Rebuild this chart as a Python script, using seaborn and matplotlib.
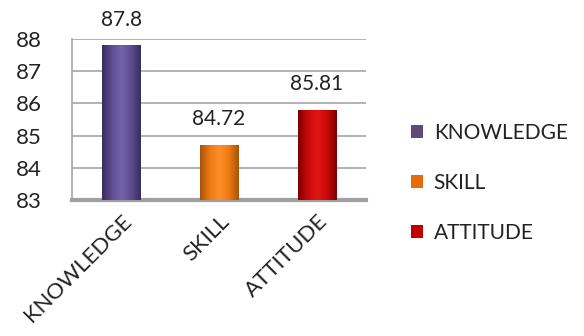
import matplotlib
matplotlib.use("Agg")
import matplotlib.pyplot as plt
import seaborn as sns
import pandas as pd
import numpy as np
from matplotlib.patches import Patch
from matplotlib.colors import LinearSegmentedColormap

categories = ["KNOWLEDGE", "SKILL", "ATTITUDE"]
values = [87.8, 84.72, 85.81]
value_labels = ["87.8", "84.72", "85.81"]
colors = ["#5E4C91", "#EE7A12", "#C80A0A"]
shade_dark = ["#3A2C63", "#A9520A", "#7E0000"]
shade_light = ["#7464A8", "#FF8E2A", "#E01616"]
legend_colors = ["#604A7B", "#E46C0A", "#C00000"]
yticks = [83, 84, 85, 86, 87, 88]

sns.set_theme(style="white")
plt.rcParams["font.family"] = ["Lato", "DejaVu Sans"]

df = pd.DataFrame({"cat": categories, "val": values})

fig = plt.figure(figsize=(5.84, 3.36), dpi=100)
ax = fig.add_axes([72/584, 1-200/336, (366-72)/584, (200-39)/336])

sns.barplot(data=df, x="cat", y="val", hue="cat", palette=colors, width=0.39,
            dodge=False, legend=False, ax=ax, zorder=3, edgecolor="none",
            saturation=1)

ax.set_ylim(83, 88)
ax.set_xlim(-0.5, 2.5)

# cylinder-like shading clipped to each bar
grad = np.linspace(0, 1, 64).reshape(1, -1)
for patch, dk, lt, base in zip(ax.patches, shade_dark, shade_light, colors):
    cmap = LinearSegmentedColormap.from_list("s", [dk, base, lt, base, dk])
    x0, w = patch.get_x(), patch.get_width()
    y0, h = patch.get_y(), patch.get_height()
    im = ax.imshow(grad, cmap=cmap, aspect="auto", extent=(x0, x0 + w, 83, y0 + h),
                   zorder=4, interpolation="bicubic")
    im.set_clip_path(patch)

ax.set_ylim(83, 88)
ax.set_xlim(-0.5, 2.5)
ax.set_yticks(yticks)
ax.set_yticklabels([str(t) for t in yticks], fontsize=16, color="#222222")
ax.yaxis.grid(True, color="#A6A6A6", linewidth=1.2, zorder=0)
ax.xaxis.grid(False)
ax.set_xlabel("")
ax.set_ylabel("")
ax.tick_params(axis="y", length=0, pad=22)
ax.tick_params(axis="x", length=0, pad=8)
ax.set_xticks(range(len(categories)))
ax.set_xticklabels(categories, rotation=45, ha="right", rotation_mode="anchor",
                   fontsize=16, color="#222222")

for s in ["top", "right"]:
    ax.spines[s].set_visible(False)
ax.spines["left"].set_color("#A6A6A6")
ax.spines["left"].set_linewidth(1.2)
ax.spines["bottom"].set_color("#A0A0A0")
ax.spines["bottom"].set_linewidth(3)

for i, (v, lab) in enumerate(zip(values, value_labels)):
    ax.annotate(lab, (i, v), xytext=(0, 11), textcoords="offset points",
                ha="center", va="bottom", fontsize=15, color="#222222",
                annotation_clip=False)

handles = [Patch(facecolor=c, edgecolor="none") for c in legend_colors]
fig.legend(handles, categories, loc="center left", bbox_to_anchor=(392/584, 1-183/336),
           frameon=False, fontsize=15, handlelength=0.6, handleheight=0.6,
           handletextpad=0.5, labelspacing=1.45, labelcolor="#222222")

fig.savefig("out.png", dpi=100)
